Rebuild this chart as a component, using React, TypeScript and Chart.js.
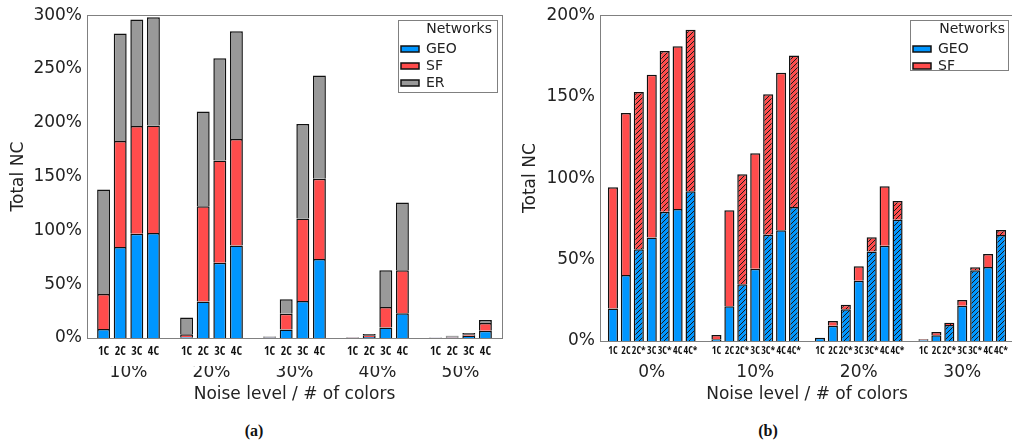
import React, { useEffect, useRef } from 'react';
import { Chart, registerables } from 'chart.js';

Chart.register(...registerables);

// ---------- data: chart (a) ----------
const leftGroups = ['10%', '20%', '30%', '40%', '50%'];
const leftBars = ['1C', '2C', '3C', '4C'];
const leftGeo = [
  [8.4, 84.5, 97, 97.5],
  [0.8, 34, 70, 86],
  [0.5, 8, 34.5, 73.5],
  [0.3, 1, 9.8, 23],
  [0.3, 0.5, 2, 6.8],
];
const leftSf = [
  [32.6, 98.5, 100, 100],
  [2.6, 88.5, 95, 99],
  [0.5, 14.5, 76.5, 74.5],
  [0.3, 1.5, 19, 40],
  [0.2, 0.8, 1.5, 7.2],
];
const leftEr = [
  [97, 100, 99, 100.5],
  [15.6, 88, 95, 100],
  [0.5, 13.5, 88, 96],
  [0.2, 1.2, 34.2, 63],
  [0.2, 0.7, 1.1, 2.7],
];
const leftYMax = 300;

// ---------- data: chart (b) ----------
const rightGroups = ['0%', '10%', '20%', '30%'];
const rightBars = ['1C', '2C', '2C*', '3C', '3C*', '4C', '4C*'];
const rightGeo = [
  [20, 40.5, 56.3, 63.5, 79.4, 81, 92],
  [1, 21.3, 34.8, 44.4, 65.3, 68, 82.3],
  [2, 9.4, 19.5, 37, 54.9, 58.4, 74.5],
  [0.5, 3.5, 9.8, 21.7, 43.4, 45.5, 65.1],
];
const rightSf = [
  [74.4, 99.5, 96.5, 99.9, 98.6, 100, 99],
  [2.7, 59, 67.6, 70.9, 86.2, 96.6, 93],
  [0, 2.9, 2.8, 8.9, 8.8, 36.6, 11.5],
  [0.5, 2, 1.4, 3.5, 1.9, 7.9, 3.1],
];
const rightYMax = 200;

const BLUE = '#0096ff';
const RED = '#ff4c4c';
const GRAY = '#999999';
const TEXT = '#222222';
const SANS = "'DejaVu Sans', sans-serif";
const NARROW = "'Open Sans Condensed', 'Roboto Condensed', sans-serif";

function makeHatch(color: string) {
  const s = 5;
  const c = document.createElement('canvas');
  c.width = s;
  c.height = s;
  const g = c.getContext('2d')!;
  g.fillStyle = color;
  g.fillRect(0, 0, s, s);
  g.strokeStyle = '#1a1a1a';
  g.lineWidth = 1;
  g.beginPath();
  for (const o of [-s, 0, s]) {
    g.moveTo(o - 1, s + 1);
    g.lineTo(o + s + 1, -1);
  }
  g.stroke();
  return g.createPattern(c, 'repeat')!;
}

function buildSlots(groups: string[], bars: string[], series: number[][][]) {
  const labels: string[] = [''];
  const data: (number | null)[][] = series.map(() => [null]);
  const centers: number[] = [];
  groups.forEach((_, g) => {
    const start = labels.length;
    centers.push(start + (bars.length - 1) / 2);
    bars.forEach((b, i) => {
      labels.push(b);
      series.forEach((s, k) => data[k].push(s[g][i]));
    });
    labels.push('');
    series.forEach((_, k) => data[k].push(null));
  });
  return { labels, data, centers };
}

const framePlugin = {
  id: 'frame',
  afterDatasetsDraw(chart: any) {
    const { ctx, chartArea: a } = chart;
    ctx.save();
    ctx.strokeStyle = '#808080';
    ctx.lineWidth = 1;
    ctx.strokeRect(Math.round(a.left) + 0.5, Math.round(a.top) + 0.5, Math.round(a.right - a.left), Math.round(a.bottom - a.top));
    ctx.restore();
  },
};

const legendBoxPlugin = {
  id: 'legendBox',
  afterLayout(chart: any, _a: any, o: any) {
    const lg = chart.legend;
    const a = chart.chartArea;
    if (!lg) return;
    const left = a.right - o.offsetRight - o.boxWidth;
    lg.left = left;
    lg.top = a.top + o.offsetTop;
    lg.width = o.titleWidth;
    lg.right = left + o.titleWidth;
    lg.bottom = a.bottom;
    lg.height = lg.bottom - lg.top;
  },
  afterDraw(chart: any, _a: any, o: any) {
    const a = chart.chartArea;
    const ctx = chart.ctx;
    const left = Math.round(a.right - o.offsetRight - o.boxWidth) + 0.5;
    const top = Math.round(a.top + o.offsetTop) + 0.5;
    ctx.save();
    ctx.strokeStyle = '#808080';
    ctx.lineWidth = 1;
    ctx.strokeRect(left, top, o.boxWidth, o.boxHeight);
    ctx.restore();
  },
};

const zeroSidePadding = (s: any) => {
  s.paddingLeft = 0;
  s.paddingRight = 0;
};

function makeConfig(opts: {
  groups: string[];
  bars: string[];
  series: { label: string; color: string; values: number[][] }[];
  yMax: number;
  yWidth: number;
  yTitlePad: number;
  tickSize: number;
  tickPad: number;
  groupPad: number;
  titlePad: number;
  barPct: number;
  legend: any;
  padBottom: number;
}) {
  const { labels, data, centers } = buildSlots(opts.groups, opts.bars, opts.series.map((s) => s.values));
  const hatched = labels.map((l) => l.endsWith('*'));
  const datasets = opts.series.map((s, k) => {
    const pattern = makeHatch(s.color);
    return {
      label: s.label,
      data: data[k],
      backgroundColor: (c: any) => (c.type === 'data' && hatched[c.dataIndex] ? pattern : s.color),
      borderColor: '#111111',
      borderWidth: 1.5,
      borderSkipped: 'start',
      barPercentage: opts.barPct,
      categoryPercentage: 1,
      stack: 's',
    };
  });
  const noGrid = { display: false, drawTicks: false, offset: false };
  return {
    type: 'bar',
    data: { labels, datasets },
    plugins: [framePlugin, legendBoxPlugin],
    options: {
      animation: false,
      responsive: false,
      maintainAspectRatio: false,
      layout: { padding: { top: 15, right: 3, bottom: opts.padBottom, left: 0 } },
      plugins: {
        tooltip: { enabled: false },
        legend: {
          position: 'chartArea',
          align: 'start',
          title: {
            display: true,
            text: 'Networks',
            position: 'end',
            color: TEXT,
            font: { family: SANS, size: 14 },
            padding: { top: 2, bottom: 0 },
          },
          labels: {
            boxWidth: 18,
            boxHeight: 6,
            padding: 3,
            color: TEXT,
            font: { family: SANS, size: 14 },
          },
        },
        legendBox: opts.legend,
      },
      scales: {
        x: {
          type: 'category',
          offset: false,
          stacked: true,
          grid: noGrid,
          border: { display: false },
          afterFit: zeroSidePadding,
          ticks: {
            autoSkip: false,
            maxRotation: 0,
            padding: opts.tickPad,
            color: '#111',
            font: { family: NARROW, weight: 'bold', size: opts.tickSize, lineHeight: 1.1 },
          },
        },
        x2: {
          type: 'linear',
          position: 'bottom',
          offset: false,
          min: 0,
          max: labels.length - 1,
          grid: noGrid,
          border: { display: false },
          afterFit: zeroSidePadding,
          afterBuildTicks: (s: any) => {
            s.ticks = centers.map((v) => ({ value: v }));
          },
          ticks: {
            autoSkip: false,
            maxRotation: 0,
            padding: opts.groupPad,
            color: TEXT,
            font: { family: SANS, size: 17, lineHeight: 1.1 },
            callback: (v: number) => {
              const i = centers.indexOf(v);
              return i >= 0 ? opts.groups[i] : '';
            },
          },
          title: {
            display: true,
            text: 'Noise level / # of colors',
            color: TEXT,
            font: { family: SANS, size: 17, lineHeight: 1.1 },
            padding: { top: opts.titlePad, bottom: 0 },
          },
        },
        y: {
          stacked: true,
          min: 0,
          max: opts.yMax,
          grid: noGrid,
          border: { display: false },
          afterFit: (s: any) => {
            s.width = opts.yWidth;
          },
          ticks: {
            stepSize: 50,
            padding: 5,
            color: TEXT,
            font: { family: SANS, size: 17 },
            callback: (v: number) => v + '%',
          },
          title: {
            display: true,
            text: 'Total NC',
            color: TEXT,
            font: { family: SANS, size: 17 },
            padding: { top: opts.yTitlePad, bottom: 0 },
          },
        },
      },
    },
  } as any;
}

export default function App() {
  const leftRef = useRef<HTMLCanvasElement>(null);
  const rightRef = useRef<HTMLCanvasElement>(null);

  useEffect(() => {
    const left = new Chart(
      leftRef.current!,
      makeConfig({
        groups: leftGroups,
        bars: leftBars,
        series: [
          { label: 'GEO', color: BLUE, values: leftGeo },
          { label: 'SF', color: RED, values: leftSf },
          { label: 'ER', color: GRAY, values: leftEr },
        ],
        yMax: leftYMax,
        yWidth: 87,
        yTitlePad: 8,
        tickSize: 12,
        tickPad: 7.4,
        groupPad: -2.35,
        titlePad: 5.65,
        barPct: 0.78,
        legend: { offsetRight: 5, offsetTop: 5, boxWidth: 99, boxHeight: 72, titleWidth: 94 },
        padBottom: 7.65,
      })
    );
    const right = new Chart(
      rightRef.current!,
      makeConfig({
        groups: rightGroups,
        bars: rightBars,
        series: [
          { label: 'GEO', color: BLUE, values: rightGeo },
          { label: 'SF', color: RED, values: rightSf },
        ],
        yMax: rightYMax,
        yWidth: 95,
        yTitlePad: 15,
        tickSize: 10,
        tickPad: 4.95,
        groupPad: 1.75,
        titlePad: 1.55,
        barPct: 0.78,
        legend: { offsetRight: 6, offsetTop: 5, boxWidth: 98, boxHeight: 50, titleWidth: 95 },
        padBottom: 7.65,
      })
    );
    return () => {
      left.destroy();
      right.destroy();
    };
  }, []);

  const caption: React.CSSProperties = {
    position: 'absolute',
    top: 422,
    width: 40,
    textAlign: 'center',
    font: "bold 16px 'Liberation Serif', serif",
    color: '#111',
  };

  return (
    <div style={{ position: 'absolute', left: 0, top: 0, width: 1012, height: 444, background: '#fff', overflow: 'hidden' }}>
      <canvas ref={leftRef} width={505} height={412} style={{ position: 'absolute', left: 0, top: 0 }} />
      <canvas ref={rightRef} width={512} height={412} style={{ position: 'absolute', left: 505, top: 0 }} />
      <div style={{ ...caption, left: 234 }}>(a)</div>
      <div style={{ ...caption, left: 748 }}>(b)</div>
    </div>
  );
}
